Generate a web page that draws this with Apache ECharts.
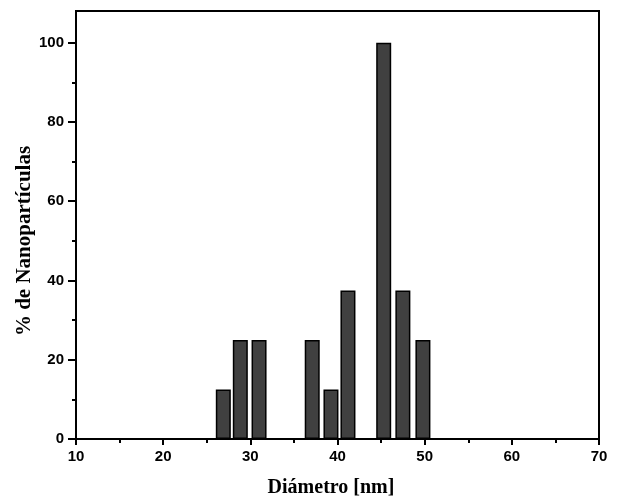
<!DOCTYPE html>
<html>
<head>
<meta charset="utf-8">
<script src="https://cdn.jsdelivr.net/npm/echarts@6/dist/echarts.min.js"></script>
<style>
  html, body { margin: 0; padding: 0; background: #fff; }
  #chart { width: 625px; height: 503px; }
</style>
</head>
<body>
<div id="chart"></div>
<script>
  // diameter bins (nm) and % of nanoparticles
  var diameters = [26.9, 28.85, 31.0, 37.1, 39.25, 41.2, 45.3, 47.5, 49.8];
  var percents = [12.5, 25, 25, 25, 12.5, 37.5, 100, 37.5, 25];
  var xMajorTicks = [10, 20, 30, 40, 50, 60, 70];
  var xMinorTicks = [15, 25, 35, 45, 55, 65];
  var yMajorTicks = [0, 20, 40, 60, 80, 100];
  var yMinorTicks = [10, 30, 50, 70, 90];

  var chart = echarts.init(document.getElementById('chart'));

  var barData = [];
  for (var i = 0; i < diameters.length; i++) {
    barData.push([diameters[i], percents[i]]);
  }

  var labelStyle = {
    color: '#000',
    fontFamily: 'Liberation Sans',
    fontWeight: 'bold',
    fontSize: 15
  };

  var option = {
    backgroundColor: '#fff',
    animation: false,
    grid: {
      left: 76, right: 26, top: 11, bottom: 64,
      show: true,
      borderColor: '#000',
      borderWidth: 2,
      backgroundColor: 'transparent'
    },
    xAxis: [{
      type: 'value',
      min: 10, max: 70, interval: 10,
      splitLine: { show: false },
      axisLine: { show: true, lineStyle: { color: '#000', width: 2 } },
      axisTick: { show: true, length: 6, lineStyle: { color: '#000', width: 2 }, customValues: xMajorTicks },
      axisLabel: Object.assign({ margin: 10, customValues: xMajorTicks }, labelStyle)
    }, {
      type: 'value',
      min: 10, max: 70,
      position: 'bottom',
      splitLine: { show: false },
      axisLine: { show: false },
      axisTick: { show: true, length: 4, lineStyle: { color: '#000', width: 2 }, customValues: xMinorTicks },
      axisLabel: { show: false }
    }],
    yAxis: [{
      type: 'value',
      min: 0, max: 108,
      splitLine: { show: false },
      axisLine: { show: true, lineStyle: { color: '#000', width: 2 } },
      axisTick: { show: true, length: 8, lineStyle: { color: '#000', width: 2 }, customValues: yMajorTicks },
      axisLabel: Object.assign({ margin: 12, customValues: yMajorTicks }, labelStyle)
    }, {
      type: 'value',
      min: 0, max: 108,
      position: 'left',
      splitLine: { show: false },
      axisLine: { show: false },
      axisTick: { show: true, length: 4, lineStyle: { color: '#000', width: 2 }, customValues: yMinorTicks },
      axisLabel: { show: false }
    }],
    graphic: [{
      type: 'text',
      style: {
        text: 'Diámetro [nm]',
        x: 331, y: 488,
        align: 'center', verticalAlign: 'middle',
        fill: '#000',
        font: 'bold 20px "Liberation Serif"'
      }
    }, {
      type: 'text',
      x: 25, y: 241,
      rotation: Math.PI / 2,
      style: {
        text: '% de Nanopartículas',
        align: 'center', verticalAlign: 'middle',
        fill: '#000',
        font: 'bold 21px "Liberation Serif"'
      }
    }],
    series: [{
      type: 'bar',
      xAxisIndex: 0,
      yAxisIndex: 0,
      barWidth: 15,
      data: barData,
      itemStyle: {
        color: '#404040',
        borderColor: '#000',
        borderWidth: 1.5
      }
    }]
  };

  chart.setOption(option);
</script>
</body>
</html>
